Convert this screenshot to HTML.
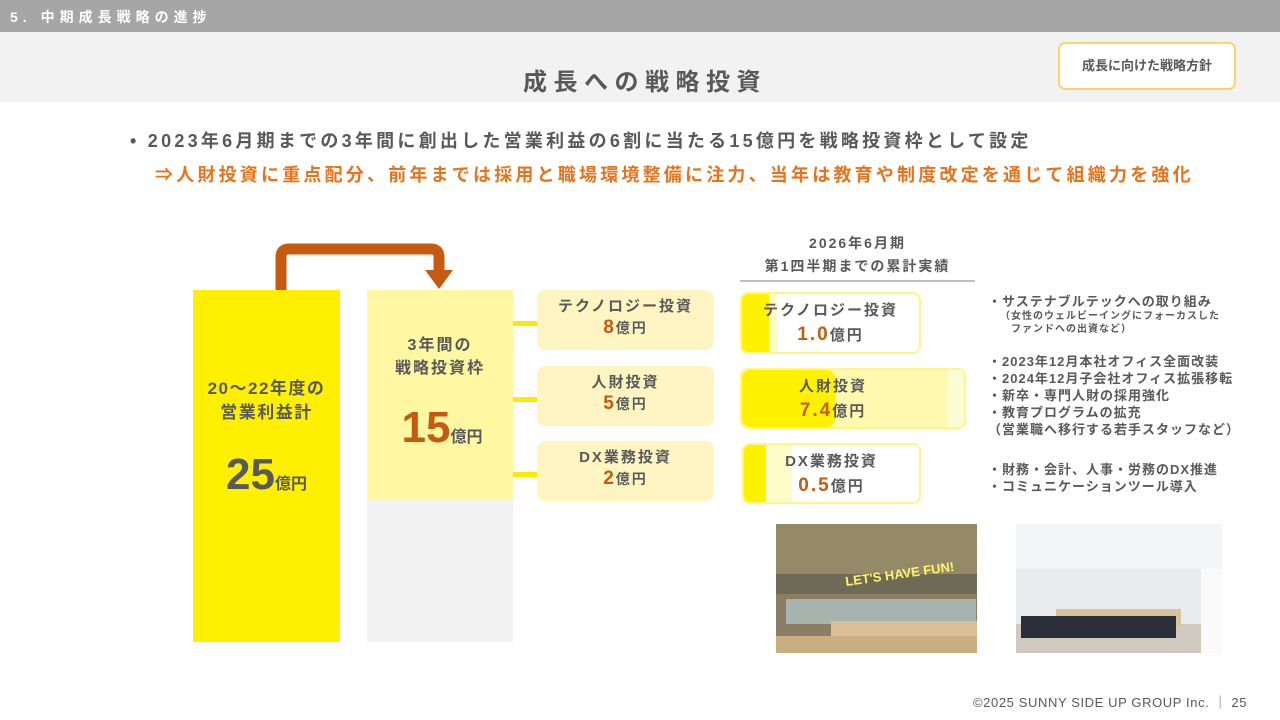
<!DOCTYPE html>
<html><head><meta charset="utf-8"><style>
*{margin:0;padding:0;box-sizing:border-box}
body{width:1280px;height:720px;position:relative;background:#fff;font-family:"Liberation Sans","Noto Sans CJK JP",sans-serif;font-weight:bold;color:#595959;overflow:hidden}
.a{position:absolute}
.c{text-align:center}
.or{color:#c55a11}
.item{position:absolute;left:537px;width:177px;height:60px;background:#fff5c2;border-radius:8px;text-align:center;font-size:15px;line-height:21px;padding-top:6px;letter-spacing:2px}
.item b{font-size:19px;color:#c55a11}
.item small{font-size:14px}
.conn{position:absolute;left:513px;width:24px;height:5px;background:#ffe800}
.rb{position:absolute;border:2px solid #fff58a;border-radius:8px;overflow:hidden;background:#fff}
.rb .t{position:absolute;left:0;right:0;text-align:center;font-size:15px;line-height:24px;top:5px;letter-spacing:2px}
.rb b{font-size:19px;color:#c55a11}
.rt{position:absolute;left:988px;font-size:13px;line-height:17px;white-space:nowrap;letter-spacing:1px}
</style></head><body>
<div class="a" style="left:0;top:0;width:1280px;height:32px;background:#a6a6a6"></div>
<div class="a" style="left:10px;top:7px;color:#fff;font-size:14px;letter-spacing:5px">5. 中期成長戦略の進捗</div>
<div class="a" style="left:0;top:32px;width:1280px;height:70px;background:#f2f2f2"></div>
<div class="a c" style="left:0;top:62px;width:1290px;font-size:24px;letter-spacing:6.5px">成長への戦略投資</div>
<div class="a c" style="left:1058px;top:42px;width:178px;height:48px;background:#fff;border:2px solid #f9d56a;border-radius:7px;font-size:13px;line-height:44px">成長に向けた戦略方針</div>
<div class="a" style="left:130px;top:127px;font-size:18px;letter-spacing:3.25px;white-space:nowrap">• 2023年6月期までの3年間に創出した営業利益の6割に当たる15億円を戦略投資枠として設定</div>
<div class="a" style="left:155px;top:161px;font-size:18px;color:#e8731d;letter-spacing:3.2px;white-space:nowrap">⇒人財投資に重点配分、前年までは採用と職場環境整備に注力、当年は教育や制度改定を通じて組織力を強化</div>

<div class="a" style="left:193px;top:290px;width:147px;height:352px;background:#ffef00"></div>
<div class="a c" style="left:193px;top:377px;width:147px;font-size:17px;line-height:24px;letter-spacing:1.5px">20～22年度の<br>営業利益計</div>
<div class="a c" style="left:193px;top:450px;width:147px;font-size:44px;line-height:50px"><span>25</span><span style="font-size:16px">億円</span></div>

<svg class="a" style="left:0;top:0" width="1280" height="720">
<path d="M281 290 V257 Q281 249 289 249 H431 Q439 249 439 257 V272" fill="none" stroke="#c55a11" stroke-width="11"/>
<polygon points="425,270 453,270 439,289" fill="#c55a11"/>
</svg>

<div class="a" style="left:367px;top:290px;width:146px;height:210px;background:#fff7a1"></div>
<div class="a" style="left:367px;top:500px;width:146px;height:142px;background:#f2f2f2"></div>
<div class="a c" style="left:367px;top:334px;width:146px;font-size:16px;line-height:23px;letter-spacing:2px">3年間の<br>戦略投資枠</div>
<div class="a c or" style="left:367px;top:403px;width:150px;font-size:44px;line-height:50px">15<span style="font-size:16px;color:#595959">億円</span></div>

<div class="conn" style="top:321px"></div>
<div class="conn" style="top:397px"></div>
<div class="conn" style="top:472px"></div>
<div class="item" style="top:290px">テクノロジー投資<br><b>8</b><small>億円</small></div>
<div class="item" style="top:366px">人財投資<br><b>5</b><small>億円</small></div>
<div class="item" style="top:441px">DX業務投資<br><b>2</b><small>億円</small></div>

<div class="a c" style="left:740px;top:232px;width:235px;font-size:14px;line-height:23px;letter-spacing:2px">2026年6月期<br>第1四半期までの累計実績</div>
<div class="a" style="left:740px;top:280px;width:235px;height:2px;background:#bfbfbf"></div>

<div class="rb" style="left:740px;top:292px;width:181px;height:62px"><div class="a" style="left:0;top:0;width:35px;height:100%;background:#fffbc8"></div><div class="a" style="left:0;top:0;width:27px;height:100%;background:#fff200"></div><div class="t">テクノロジー投資<br><b>1.0</b>億円</div></div>
<div class="rb" style="left:740px;top:368px;width:226px;height:61px;background:#fff9b0"><div class="a" style="left:0;top:0;width:93px;height:100%;background:#fff200;border-radius:8px"></div><div class="a" style="left:205px;top:0;width:20px;height:100%;background:#fffcd5"></div><div class="t" style="left:-4px;right:auto;width:190px">人財投資<br><b>7.4</b>億円</div></div>
<div class="rb" style="left:742px;top:443px;width:179px;height:61px"><div class="a" style="left:0;top:0;width:48px;height:100%;background:#fffbc8"></div><div class="a" style="left:0;top:0;width:22px;height:100%;background:#fff200"></div><div class="t">DX業務投資<br><b>0.5</b>億円</div></div>

<div class="rt" style="top:293px">・サステナブルテックへの取り組み</div>
<div class="rt" style="top:310px;left:1000px;font-size:10px;line-height:13px">（女性のウェルビーイングにフォーカスした<br>　ファンドへの出資など）</div>
<div class="rt" style="top:353px">・2023年12月本社オフィス全面改装<br>・2024年12月子会社オフィス拡張移転<br>・新卒・専門人財の採用強化<br>・教育プログラムの拡充<br>（営業職へ移行する若手スタッフなど）</div>
<div class="rt" style="top:461px">・財務・会計、人事・労務のDX推進<br>・コミュニケーションツール導入</div>

<svg class="a" style="left:776px;top:524px" width="201" height="129">
<rect width="201" height="129" fill="#8a7f63"/>
<rect width="201" height="70" fill="#6f6a55"/>
<rect y="0" width="201" height="50" fill="#b9a97a" opacity=".5"/>
<rect x="10" y="75" width="190" height="25" fill="#a9b3ae"/>
<rect x="55" y="97" width="146" height="32" fill="#d8bf98"/>
<rect x="0" y="112" width="201" height="17" fill="#c9ae82"/>
<text x="70" y="62" font-size="13" fill="#fff36a" font-family="Liberation Sans" transform="rotate(-8 70 62)">LET'S HAVE FUN!</text>
</svg>
<svg class="a" style="left:1016px;top:524px" width="206" height="129">
<rect width="206" height="129" fill="#e9ecef"/>
<rect y="0" width="206" height="45" fill="#f4f5f6"/>
<rect x="0" y="100" width="206" height="29" fill="#cfc9bf"/>
<rect x="40" y="85" width="125" height="18" fill="#d8c3a0"/>
<rect x="5" y="92" width="155" height="22" fill="#2a2e3a"/>
<rect x="185" y="45" width="21" height="84" fill="#fafafa"/>
</svg>

<div class="a" style="left:973px;top:692px;font-size:13px;font-weight:normal;color:#595959;letter-spacing:0.6px;white-space:nowrap">©2025 SUNNY SIDE UP GROUP Inc. ｜ 25</div>
</body></html>
